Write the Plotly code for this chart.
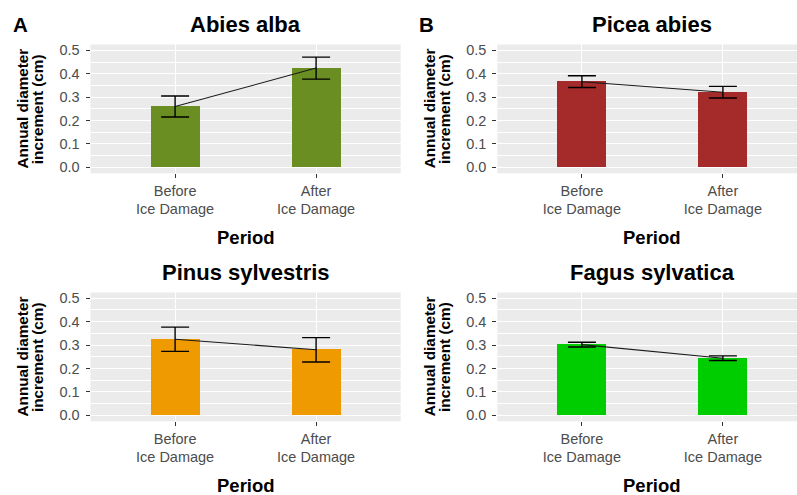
import plotly.graph_objects as go

W, H = 797, 495

species = ["Abies alba", "Picea abies", "Pinus sylvestris", "Fagus sylvatica"]
panel_letters = ["A", "B", "", ""]
periods = ["Before<br>Ice Damage", "After<br>Ice Damage"]
means = {
    "Abies alba": [0.260, 0.424],
    "Picea abies": [0.366, 0.321],
    "Pinus sylvestris": [0.325, 0.280],
    "Fagus sylvatica": [0.302, 0.244],
}
errors = {
    "Abies alba": [0.045, 0.047],
    "Picea abies": [0.025, 0.025],
    "Pinus sylvestris": [0.052, 0.052],
    "Fagus sylvatica": [0.010, 0.010],
}
colors = {
    "Abies alba": "#6B8E23",
    "Picea abies": "#A52A2A",
    "Pinus sylvestris": "#EE9A00",
    "Fagus sylvatica": "#00CD00",
}
y_ticks = [0.0, 0.1, 0.2, 0.3, 0.4, 0.5]

FONT = "Liberation Sans, Arial, sans-serif"

def px(x):
    return x / W

def py(y):
    return 1 - y / H

# panel geometry (pixels)
unit = 141.0
lefts = [90.5, 497.3, 90.5, 497.3]
tops = [42.8, 42.8, 292.8, 292.8]
ph = 129.8

fig = go.Figure()
annotations = []

for i, sp in enumerate(species):
    ax = "" if i == 0 else str(i + 1)
    xa, ya = "x" + ax, "y" + ax
    left = lefts[i]
    full_right = left + 2.2 * unit
    right = min(full_right, W)
    xmax = -0.6 + (right - left) / unit
    top, bottom = tops[i], tops[i] + ph

    fig.add_trace(go.Bar(
        x=periods, y=means[sp], width=0.35,
        marker=dict(color=colors[sp], line=dict(width=0)),
        xaxis=xa, yaxis=ya, showlegend=False,
    ))
    fig.add_trace(go.Scatter(
        x=periods, y=means[sp], mode="lines",
        line=dict(color="#1a1a1a", width=1.1),
        xaxis=xa, yaxis=ya, showlegend=False,
    ))
    fig.add_trace(go.Scatter(
        x=periods, y=means[sp], mode="markers",
        marker=dict(size=1, color="rgba(0,0,0,0)"),
        error_y=dict(type="data", array=errors[sp], color="black",
                     thickness=1.4, width=14),
        xaxis=xa, yaxis=ya, showlegend=False,
    ))

    xkey = "xaxis" + ax
    ykey = "yaxis" + ax
    fig.update_layout(**{
        xkey: dict(
            domain=[px(left), px(right)], anchor=ya,
            type="category", range=[-0.6, xmax],
            showgrid=True, gridcolor="white", gridwidth=1.1,
            ticks="outside", ticklen=4, tickwidth=1, tickcolor="#333333",
            tickfont=dict(family=FONT, size=14.5, color="#4D4D4D"),
            showline=False, zeroline=False, fixedrange=True,
        ),
        ykey: dict(
            domain=[py(bottom), py(top)], anchor=xa,
            range=[-0.025, 0.525],
            tickvals=y_ticks, tickformat=".1f",
            showgrid=True, gridcolor="white", gridwidth=1.1,
            minor=dict(dtick=0.05, tick0=0.0, showgrid=True,
                       gridcolor="white", gridwidth=0.55),
            ticks="outside", ticklen=4, tickwidth=1, tickcolor="#333333",
            tickfont=dict(family=FONT, size=14.5, color="#4D4D4D"),
            ticklabelstandoff=3,
            showline=False, zeroline=False, fixedrange=True,
        ),
    })

    fig.add_shape(type="rect", xref="paper", yref="paper",
                  x0=px(left), x1=px(right), y0=py(bottom), y1=py(top),
                  fillcolor="#EBEBEB", line=dict(width=0), layer="below")

    cx = (left + full_right) / 2
    # subplot title
    annotations.append(dict(
        text="<b>%s</b>" % sp, x=px(cx), y=py(top - 20.3),
        xref="paper", yref="paper", xanchor="center", yanchor="middle",
        showarrow=False, font=dict(family=FONT, size=22, color="black")))
    # x axis title
    annotations.append(dict(
        text="<b>Period</b>", x=px(cx), y=py(bottom + 64.7),
        xref="paper", yref="paper", xanchor="center", yanchor="middle",
        showarrow=False, font=dict(family=FONT, size=18.5, color="black")))
    # y axis title lines
    for text, dx in (("Annual diameter", -67.8), ("increment (cm)", -52.2)):
        annotations.append(dict(
            text="<b>%s</b>" % text, x=px(left + dx), y=py(top + ph / 2),
            xref="paper", yref="paper", xanchor="center", yanchor="middle",
            textangle=-90, showarrow=False,
            font=dict(family=FONT, size=15.3, color="black")))
    if panel_letters[i]:
        annotations.append(dict(
            text="<b>%s</b>" % panel_letters[i], x=px(left - 70.5), y=py(23),
            xref="paper", yref="paper", xanchor="center", yanchor="middle",
            showarrow=False, font=dict(family=FONT, size=20.5, color="black")))

fig.update_layout(
    width=W, height=H,
    margin=dict(l=0, r=0, t=0, b=0),
    paper_bgcolor="white", plot_bgcolor="rgba(0,0,0,0)",
    annotations=annotations,
    font=dict(family=FONT),
    bargap=0,
)

fig.write_html("out.html", config={"displayModeBar": False})
